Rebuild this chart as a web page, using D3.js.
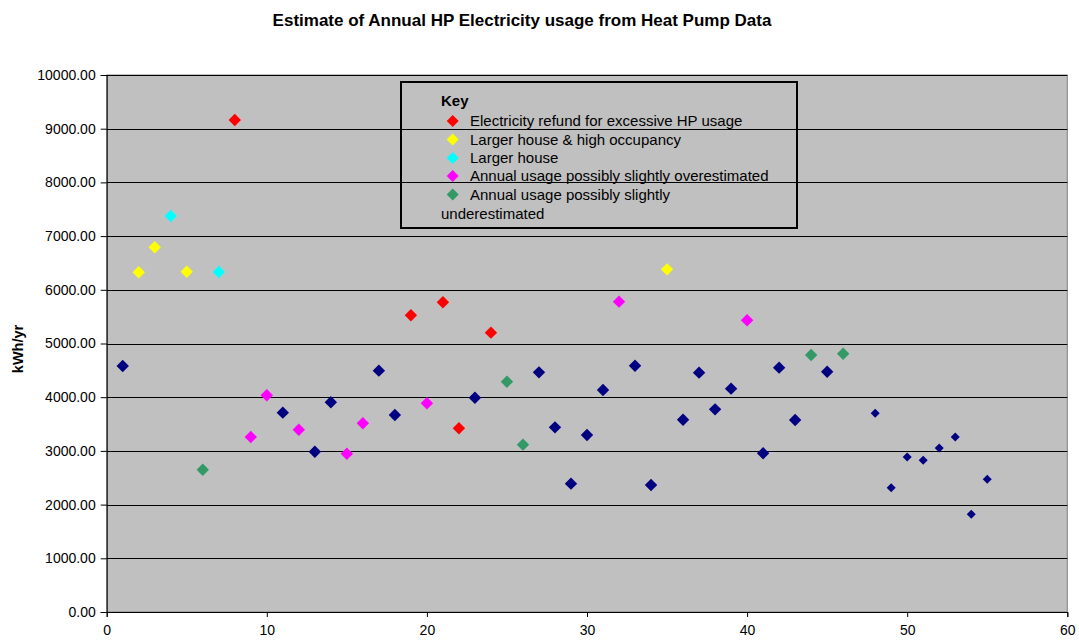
<!DOCTYPE html>
<html><head><meta charset="utf-8">
<script src="https://cdn.jsdelivr.net/npm/d3@7"></script>
<style>body{margin:0;background:#fff;} text{font-family:"Liberation Sans",Arial,sans-serif;}</style>
</head><body><svg id="c" width="1079" height="642"></svg>
<script>
const title = "Estimate of Annual HP Electricity usage from Heat Pump Data";
const yLabel = "kWh/yr";
const xTicks = [0,10,20,30,40,50,60];
const yTicks = [0,1000,2000,3000,4000,5000,6000,7000,8000,9000,10000];
const seriesNames = ["Standard","Electricity refund for excessive HP usage","Larger house & high occupancy","Larger house","Annual usage possibly slightly overestimated","Annual usage possibly slightly underestimated"];
const seriesColors = ["#000080","#ff0000","#ffff00","#00ffff","#ff00ff","#339966"];
const houseIds = [1,2,3,4,5,6,7,8,9,10,11,12,13,14,15,16,17,18,19,20,21,22,23,24,25,26,27,28,29,30,31,32,33,34,35,36,37,38,39,40,41,42,43,44,45,46,48,49,50,51,52,53,54,55];
const usage =   [4580,6326,6791,7374,6337,2650,6331,9162,3259,4035,3712,3395,2985,3905,2948,3514,4494,3668,5525,3886,5767,3421,3991,5202,4289,3116,4463,3439,2390,3296,4134,5779,4587,2365,6381,3581,4457,3774,4159,5432,2955,4550,3575,4786,4475,4810,3700,2315,2886,2825,3054,3259,1819,2471];
const category =[0,2,2,3,2,5,3,1,4,4,0,4,0,0,4,4,0,0,1,4,1,1,0,1,5,5,0,0,0,0,0,4,0,0,2,0,0,0,0,4,0,0,0,5,0,5,0,0,0,0,0,0,0,0];
const smallMarker = [0,0,0,0,0,0,0,0,0,0,0,0,0,0,0,0,0,0,0,0,0,0,0,0,0,0,0,0,0,0,0,0,0,0,0,0,0,0,0,0,0,0,0,0,0,0,1,1,1,1,1,1,1,1];

const svg = d3.select("#c");
const L=106.7, R=1067.3, T=75, B=612;
const x = d3.scaleLinear().domain([0,60]).range([L,R]);
const y = d3.scaleLinear().domain([0,10000]).range([B,T]);

svg.append("rect").attr("x",L).attr("y",T).attr("width",R-L).attr("height",B-T).attr("fill","#c0c0c0").attr("stroke","#808080").attr("stroke-width",1);

svg.append("g").selectAll("line").data(yTicks.filter(d=>d>0)).join("line")
  .attr("x1",L).attr("x2",R).attr("y1",d=>Math.round(y(d))+0.5).attr("y2",d=>Math.round(y(d))+0.5)
  .attr("stroke","#000").attr("stroke-width",1);

const yAxis = d3.axisLeft(y).tickValues(yTicks).tickFormat(d3.format(".2f")).tickSize(6).tickPadding(5);
const gy = svg.append("g").attr("transform",`translate(${L},0)`).call(yAxis);
gy.selectAll("text").attr("font-size",14).attr("fill","#000").style("font-family","Liberation Sans, Arial, sans-serif");
gy.selectAll("line,path").attr("stroke","#000");

const xAxis = d3.axisBottom(x).tickValues(xTicks).tickSize(5).tickPadding(8);
const gx = svg.append("g").attr("transform",`translate(0,${B})`).call(xAxis);
gx.selectAll("text").attr("font-size",14).attr("fill","#000").style("font-family","Liberation Sans, Arial, sans-serif");
gx.selectAll("line,path").attr("stroke","#000");

svg.append("text").attr("x",522).attr("y",26).attr("text-anchor","middle").attr("font-size",17).attr("font-weight","bold").text(title);
svg.append("text").attr("transform","translate(23,349) rotate(-90)").attr("text-anchor","middle").attr("font-size",14.5).attr("font-weight","bold").text(yLabel);

const pts = houseIds.map((h,i)=>({h, v:usage[i], c:category[i], s:smallMarker[i]}));
svg.append("g").selectAll("path").data(pts).join("path")
  .attr("transform",d=>`translate(${x(d.h)},${y(d.v)})`)
  .attr("d",d=>{const r=d.s?4.5:6.2; return `M0,${-r}L${r},0L0,${r}L${-r},0Z`;})
  .attr("fill",d=>seriesColors[d.c]);

const lg = svg.append("g");
lg.append("rect").attr("x",401).attr("y",82).attr("width",396).attr("height",146).attr("fill","none").attr("stroke","#000").attr("stroke-width",2);
lg.append("text").attr("x",441).attr("y",106).attr("font-size",15).attr("font-weight","bold").text("Key");
const rowsY = [121,139.5,158,176,194.5];
seriesNames.slice(1).forEach((n,i)=>{
  const cy = rowsY[i];
  const r=6;
  lg.append("path").attr("d",`M${452.7},${cy-r}L${452.7+r},${cy}L${452.7},${cy+r}L${452.7-r},${cy}Z`).attr("fill",seriesColors[i+1]);
  if(i<4){
    lg.append("text").attr("x",470).attr("y",cy+5).attr("font-size",15).attr("fill","#000").text(n);
  } else {
    lg.append("text").attr("x",470).attr("y",cy+5).attr("font-size",15).attr("fill","#000").text("Annual usage possibly slightly");
    lg.append("text").attr("x",441).attr("y",cy+24).attr("font-size",15).attr("fill","#000").text("underestimated");
  }
});
</script></body></html>
